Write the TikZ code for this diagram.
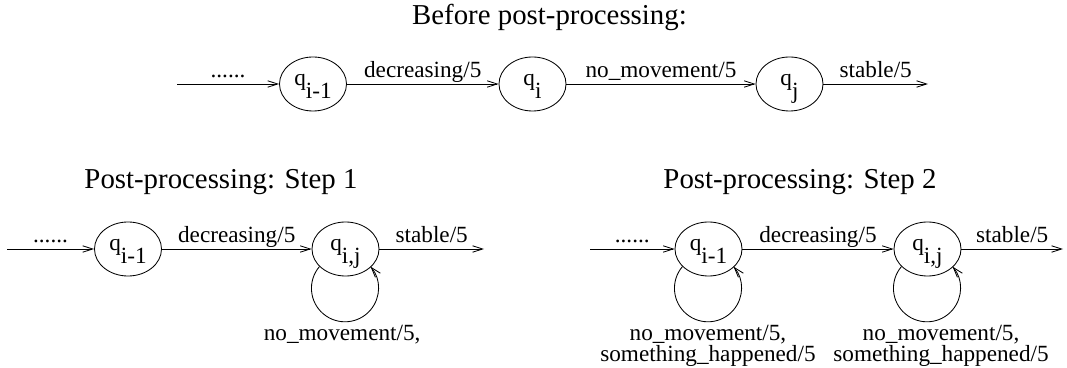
\documentclass[tikz,border=0pt]{standalone}
\usepackage{fontspec}
\setmainfont{Liberation Serif}
\usetikzlibrary{shapes.geometric, arrows.meta}

\newcommand{\qsub}[1]{q\raisebox{-.55em}{#1}}

\begin{document}
\begin{tikzpicture}[x=0.025cm, y=0.025cm, semithick,
    >={Straight Barb[length=2.5mm, width=1.6mm]},
    every node/.style = {font=\fontsize{16.5}{12.8}\selectfont},
    main/.style = {draw, ellipse, minimum width=1.675cm, minimum height=1.35cm, inner sep=0pt,
        text height=.76em, text depth=.55em},
    lbl/.style = {above, inner sep=2pt, text depth=.25em},
    loopl/.style = {below, inner sep=2pt, align=center},
    title/.style = {font=\fontsize{20.5}{24}\selectfont}]

    \useasboundingbox (0, 0) rectangle (1067, 368);

    \node[title] (h1) at (549.5, 351) {Before post-processing:};
    \node[title] (h2) at (221, 186) {Post-processing: Step 1};
    \node[title] (h3) at (800, 186) {Post-processing: Step 2};

    \coordinate (in1) at (177, 284);
    \node[main] (b1) at (313, 284) {\qsub{i-1}};
    \node[main] (b2) at (532.5, 284) {\qsub{i}};
    \node[main] (b3) at (789.5, 284) {\qsub{j}};
    \coordinate (out1) at (928, 284);

    \draw[->] (in1) -- node[lbl] {......} (b1);
    \draw[->] (b1) -- node[lbl] {decreasing/5} (b2);
    \draw[->] (b2) -- node[lbl] {no\_movement/5} (b3);
    \draw[->] (b3) -- node[lbl] {stable/5} (out1);

    \coordinate (in2) at (7, 119);
    \node[main] (s1) at (128, 119) {\qsub{i-1}};
    \node[main] (s2) at (345.5, 119) {\qsub{i,j}};
    \coordinate (out2) at (484, 119);

    \draw[->] (in2) -- node[lbl] {......} (s1);
    \draw[->] (s1) -- node[lbl] {decreasing/5} (s2);
    \draw[->] (s2) -- node[lbl] {stable/5} (out2);
    \draw[->] (s2.214.45) arc[start angle=139.6, end angle=400.4, radius=0.8375cm]
        node[loopl, midway, xshift=-2] {no\_movement/5,};

    \coordinate (in3) at (590, 119);
    \node[main] (t1) at (708.5, 119) {\qsub{i-1}};
    \node[main] (t2) at (927.5, 119) {\qsub{i,j}};
    \coordinate (out3) at (1063, 119);

    \draw[->] (in3) -- node[lbl] {......} (t1);
    \draw[->] (t1) -- node[lbl] {decreasing/5} (t2);
    \draw[->] (t2) -- node[lbl] {stable/5} (out3);
    \draw[->] (t1.214.45) arc[start angle=139.6, end angle=400.4, radius=0.8375cm]
        node[loopl, midway] {no\_movement/5,\\something\_happened/5};
    \draw[->] (t2.214.45) arc[start angle=139.6, end angle=400.4, radius=0.8375cm]
        node[loopl, midway, xshift=10] {no\_movement/5,\\something\_happened/5};

\end{tikzpicture}
\end{document}
